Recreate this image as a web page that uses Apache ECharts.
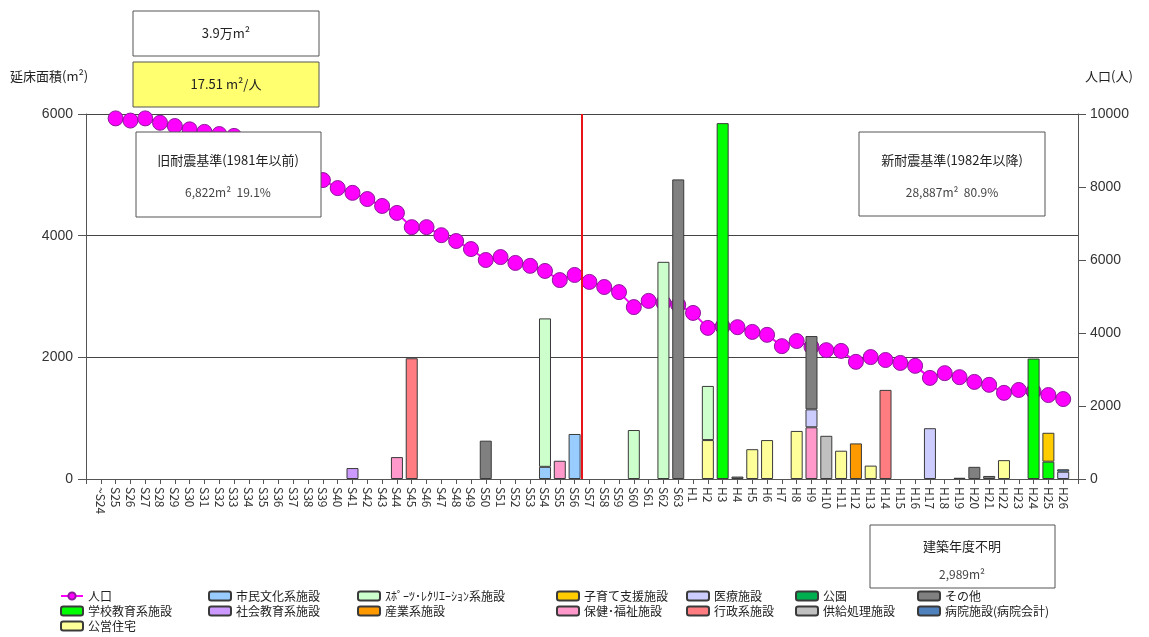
<!DOCTYPE html>
<html>
<head>
<meta charset="utf-8">
<script src="https://cdn.jsdelivr.net/npm/echarts@6/dist/echarts.min.js"></script>
<style>
  html, body { margin: 0; padding: 0; background: #fff; }
  #chart { width: 1149px; height: 637px; }
</style>
</head>
<body>
<div id="chart"></div>
<script>
// 建築年度（和暦）
const categories = [
  '~S24',
  'S25','S26','S27','S28','S29','S30','S31','S32','S33','S34','S35','S36','S37','S38','S39',
  'S40','S41','S42','S43','S44','S45','S46','S47','S48','S49','S50','S51','S52','S53','S54',
  'S55','S56','S57','S58','S59','S60','S61','S62','S63',
  'H1','H2','H3','H4','H5','H6','H7','H8','H9','H10','H11','H12','H13','H14','H15','H16',
  'H17','H18','H19','H20','H21','H22','H23','H24','H25','H26'
];

// 人口（人） ～S24 は値なし
const population = [
  null,
  9880, 9820, 9880, 9760, 9670, 9580, 9510, 9450, 9400, 9230, 9050, 8870, 8680, 8420, 8190,
  7970, 7840, 7670, 7480, 7290, 6900, 6900, 6680, 6520, 6300, 6000, 6080, 5920, 5840, 5700,
  5450, 5590, 5400, 5260, 5120, 4710, 4880, 4830, 4770,
  4550, 4140, 4180, 4160, 4030, 3950, 3640, 3780, 3620, 3530, 3510, 3210, 3340, 3260, 3180, 3100,
  2770, 2900, 2790, 2660, 2580, 2360, 2440, 2400, 2300, 2190
];

// 用途別 延床面積（m²） [年度, 面積]
const schoolEdu    = [['H3', 5850], ['H24', 1980], ['H25', 285]];
const publicHouse  = [['H2', 640], ['H5', 490], ['H6', 640], ['H8', 790], ['H11', 465], ['H13', 220], ['H22', 310]];
const civicCulture = [['S54', 200], ['S56', 740]];
const socialEdu    = [['S41', 180]];
const sportsRec    = [['S54', 2440], ['S60', 805], ['S62', 3570], ['H2', 890]];
const industry     = [['H12', 585]];
const childcare    = [['H25', 475]];
const welfare      = [['S44', 360], ['S55', 300], ['H9', 850]];
const medical      = [['H9', 295], ['H17', 835], ['H26', 120]];
const admin        = [['S45', 1985], ['H14', 1465]];
const park         = [];
const supply       = [['H10', 710]];
const others       = [['S50', 630], ['S63', 4925], ['H4', 40], ['H9', 1205], ['H19', 20], ['H20', 200], ['H21', 50]];
const hospital     = [['H26', 40]];

// 旧耐震／新耐震の境目（S56 と S57 の間、外枠軸の目盛位置）
const boundaryPos = 33.5;

const labelFont = '"Noto Sans CJK JP", sans-serif';
const numFont = '"Liberation Sans", Arial, sans-serif';

// 積み上げ順（下から）
const barDefs = [
  { name: '学校教育系施設', color: '#00FF00', pairs: schoolEdu },
  { name: '公営住宅', color: '#FFFF99', pairs: publicHouse },
  { name: '市民文化系施設', color: '#99CCFF', pairs: civicCulture },
  { name: '社会教育系施設', color: '#CC99FF', pairs: socialEdu },
  { name: 'ｽﾎﾟｰﾂ･ﾚｸﾘｴｰｼｮﾝ系施設', color: '#CCFFCC', pairs: sportsRec },
  { name: '産業系施設', color: '#FF9900', pairs: industry },
  { name: '子育て支援施設', color: '#FFCC00', pairs: childcare },
  { name: '保健･福祉施設', color: '#FF99CC', pairs: welfare },
  { name: '医療施設', color: '#CCCCFF', pairs: medical },
  { name: '行政系施設', color: '#FF7C80', pairs: admin },
  { name: '公園', color: '#00B050', pairs: park },
  { name: '供給処理施設', color: '#C0C0C0', pairs: supply },
  { name: 'その他', color: '#808080', pairs: others },
  { name: '病院施設(病院会計)', color: '#4F81BD', pairs: hospital }
];

function toSeriesData(pairs) {
  return categories.map(c => {
    const hit = pairs.find(p => p[0] === c);
    return hit ? hit[1] : null;
  });
}

// 棒・折れ線はグリッド1（カテゴリ軸）、外枠の軸線と目盛はグリッド0
const barSeries = barDefs.map(d => ({
  name: d.name,
  type: 'bar',
  stack: 'area',
  xAxisIndex: 1,
  yAxisIndex: 2,
  barWidth: 12,
  z: 3,
  itemStyle: { color: d.color, borderColor: '#3a3a3a', borderWidth: 1 },
  data: toSeriesData(d.pairs)
}));

const lineSeries = {
  name: '人口',
  type: 'line',
  xAxisIndex: 1,
  yAxisIndex: 3,
  z: 1,
  symbol: 'circle',
  symbolSize: 15,
  lineStyle: { color: '#FF00FF', width: 2 },
  itemStyle: { color: '#FF00FF', borderColor: '#8B1A9A', borderWidth: 1 },
  data: population
};

const boundarySeries = {
  name: 'boundary',
  type: 'line',
  xAxisIndex: 0,
  yAxisIndex: 0,
  data: [],
  markLine: {
    silent: true,
    symbol: 'none',
    label: { show: false },
    lineStyle: { color: '#E8141A', width: 2, type: 'solid' },
    data: [{ xAxis: boundaryPos }]
  }
};

// 凡例（列ごと）
const legendColumns = [
  { left: 60,  items: ['人口', '学校教育系施設', '公営住宅'] },
  { left: 208, items: ['市民文化系施設', '社会教育系施設'] },
  { left: 357, items: ['ｽﾎﾟｰﾂ･ﾚｸﾘｴｰｼｮﾝ系施設', '産業系施設'] },
  { left: 556, items: ['子育て支援施設', '保健･福祉施設'] },
  { left: 686, items: ['医療施設', '行政系施設'] },
  { left: 795, items: ['公園', '供給処理施設'] },
  { left: 917, items: ['その他', '病院施設(病院会計)'] }
];

const legends = legendColumns.map(col => ({
  orient: 'vertical',
  left: col.left,
  top: 589,
  itemWidth: 22,
  itemHeight: 9,
  itemGap: 1,
  padding: 0,
  selectedMode: false,
  textStyle: { fontFamily: labelFont, fontSize: 12, color: '#222', lineHeight: 14 },
  data: col.items
}));

function box(x, y, w, h, fill) {
  return {
    type: 'rect',
    z: 100,
    shape: { x: x, y: y, width: w, height: h },
    style: { fill: fill, stroke: '#555', lineWidth: 1 }
  };
}
function label(cx, cy, text, color, size) {
  return {
    type: 'text',
    z: 101,
    x: cx, y: cy,
    style: {
      text: text, fill: color || '#222', font: (size || 13) + 'px ' + labelFont,
      align: 'center', verticalAlign: 'middle'
    }
  };
}

const plainNumber = v => String(v);
const band = 992 / (categories.length + 1);

const option = {
  animation: false,
  backgroundColor: '#fff',
  grid: [
    { left: 86, right: 71, top: 114, bottom: 158, outerBoundsMode: 'none' },
    { left: 86 + band / 2, right: 71 + band / 2, top: 114, bottom: 158, outerBoundsMode: 'none' }
  ],
  legend: legends,
  xAxis: [
    {
      gridIndex: 0,
      type: 'value',
      min: 0,
      max: categories.length + 1,
      interval: 1,
      splitLine: { show: false },
      axisLine: { show: true, onZero: false, lineStyle: { color: '#555', width: 1 } },
      axisTick: { show: true, length: 5, lineStyle: { color: '#555' } },
      axisLabel: { show: false }
    },
    {
      gridIndex: 1,
      type: 'category',
      data: categories,
      boundaryGap: true,
      axisLine: { show: false },
      axisTick: { show: false },
      axisLabel: {
        interval: 0,
        rotate: -90,
        margin: 8,
        fontFamily: labelFont,
        fontSize: 12,
        color: '#333'
      }
    }
  ],
  yAxis: [
    {
      gridIndex: 0,
      type: 'value',
      min: 0, max: 6000, interval: 2000,
      position: 'left',
      axisLine: { show: true, lineStyle: { color: '#555' } },
      axisTick: { show: true, length: 8, lineStyle: { color: '#555' } },
      splitLine: { show: true, lineStyle: { color: '#444', width: 1 } },
      axisLabel: { margin: 13, fontFamily: numFont, fontSize: 14, color: '#333', formatter: plainNumber }
    },
    {
      gridIndex: 0,
      type: 'value',
      min: 0, max: 10000, interval: 2000,
      position: 'right',
      axisLine: { show: true, lineStyle: { color: '#555' } },
      axisTick: { show: true, length: 8, lineStyle: { color: '#555' } },
      splitLine: { show: false },
      axisLabel: { margin: 12, fontFamily: numFont, fontSize: 14, color: '#333', formatter: plainNumber }
    },
    { gridIndex: 1, type: 'value', min: 0, max: 6000, show: false, splitLine: { show: false } },
    { gridIndex: 1, type: 'value', min: 0, max: 10000, show: false, splitLine: { show: false } }
  ],
  graphic: [
    { type: 'text', z: 101, left: 10, top: 70,
      style: { text: '延床面積(m²)', fill: '#222', font: '13px ' + labelFont } },
    { type: 'text', z: 101, left: 1085, top: 70,
      style: { text: '人口(人)', fill: '#222', font: '13px ' + labelFont } },
    box(133, 11, 186, 45, '#FFFFFF'),
    label(226, 33, '3.9万m²', '#222', 13),
    box(133, 62, 186, 45, '#FFFF70'),
    label(226, 84, '17.51 m²/人', '#222', 13),
    box(136, 132, 185, 85, '#FFFFFF'),
    label(228, 160, '旧耐震基準(1981年以前)', '#222', 13),
    label(228, 192, '6,822m²  19.1%', '#444', 12),
    box(859, 132, 186, 84, '#FFFFFF'),
    label(952, 160, '新耐震基準(1982年以降)', '#222', 13),
    label(952, 192, '28,887m²  80.9%', '#444', 12),
    box(870, 525, 185, 63, '#FFFFFF'),
    label(962, 546, '建築年度不明', '#222', 13),
    label(962, 574, '2,989m²', '#444', 12)
  ],
  series: [boundarySeries, lineSeries].concat(barSeries)
};

const chart = echarts.init(document.getElementById('chart'), null, { renderer: 'canvas' });
chart.setOption(option);
</script>
</body>
</html>
